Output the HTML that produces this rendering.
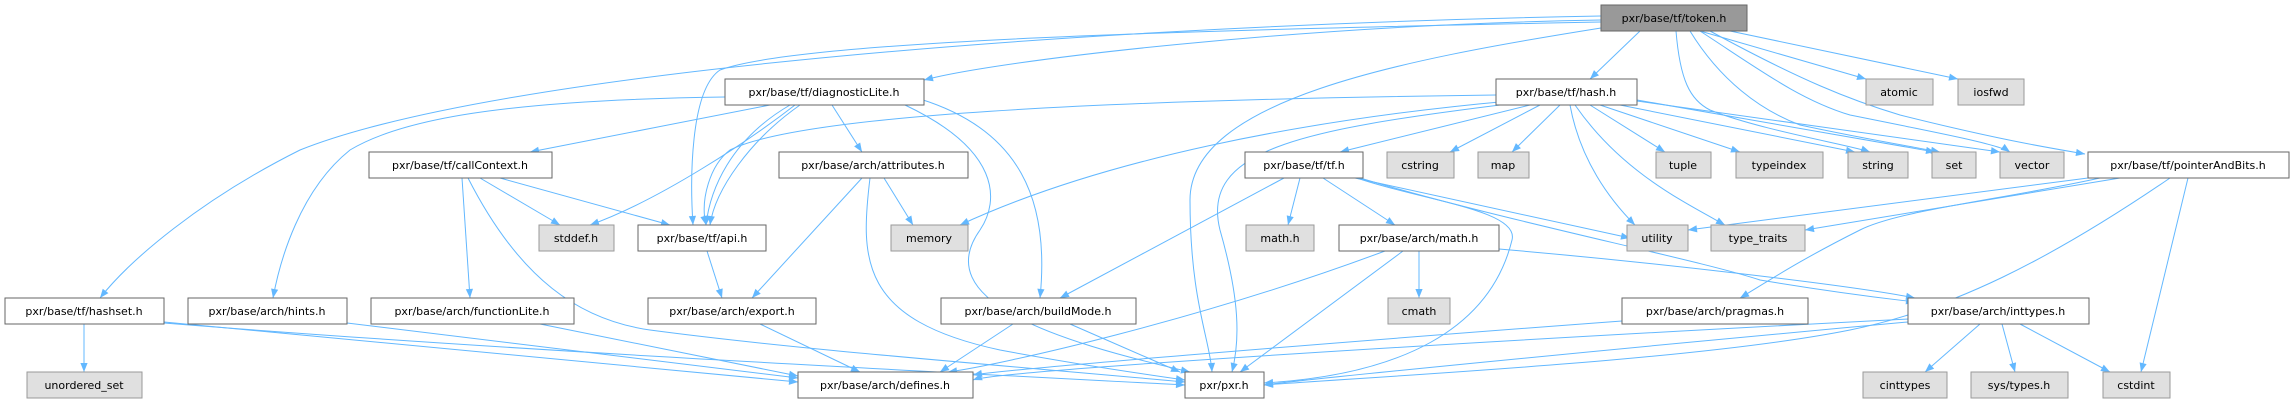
<!DOCTYPE html>
<html><head><meta charset="utf-8"><style>
html,body{margin:0;padding:0;background:#fff;}
svg{display:block}
text{font-family:"DejaVu Sans","Liberation Sans",sans-serif;font-size:11px;fill:#000;}
.n rect{fill:#fff;stroke:#666;stroke-width:1}
.g rect{fill:#e0e0e0;stroke:#999;stroke-width:1}
.e path{fill:none;stroke:#63b8ff;stroke-width:1;marker-end:url(#a)}
</style></head><body>
<svg width="2291" height="403" viewBox="0 0 2291 403" xmlns="http://www.w3.org/2000/svg">
<defs><marker id="a" viewBox="0 0 10 10" refX="10" refY="5" markerWidth="11" markerHeight="9" orient="auto" markerUnits="userSpaceOnUse"><path d="M0,1 L10,5 L0,9 z" fill="#63b8ff"/></marker></defs>
<g class="e">
<path d="M1640,31 L1590,79"/>
<path d="M1601,20 C1300,25 1000,60 924,80"/>
<path d="M1601,16 C1100,25 500,70 300,150 C200,200 130,260 100,298"/>
<path d="M1601,22 C1200,30 800,40 720,70 C690,90 690,180 693,225"/>
<path d="M1601,28 C1400,60 1190,100 1190,200 C1190,300 1210,340 1212,372"/>
<path d="M1700,31 L1866,79"/>
<path d="M1730,31 L1958,79"/>
<path d="M1676,31 C1680,80 1690,100 1710,110 C1760,130 1850,145 1870,152"/>
<path d="M1690,31 C1720,80 1760,110 1800,125 C1870,140 1920,148 1940,152"/>
<path d="M1700,31 C1760,70 1800,100 1850,115 C1950,135 2000,145 2010,152"/>
<path d="M1710,31 C1800,80 1850,100 1900,115 C2000,140 2050,148 2085,154"/>
<path d="M770,105 L530,152"/>
<path d="M725,97 C500,100 400,120 350,150 C300,190 280,260 273,298"/>
<path d="M795,105 C750,140 660,200 590,225"/>
<path d="M790,105 C730,140 710,190 706,225"/>
<path d="M800,105 C750,140 715,190 710,225"/>
<path d="M832,105 L862,152"/>
<path d="M905,105 C1000,150 1000,200 980,230 C930,300 1050,340 1190,372"/>
<path d="M920,99 C1020,130 1050,200 1040,298"/>
<path d="M480,178 L560,225"/>
<path d="M500,178 L670,225"/>
<path d="M462,178 L470,298"/>
<path d="M468,178 C520,280 580,320 650,330 C800,350 1000,365 1185,382"/>
<path d="M707,251 L722,298"/>
<path d="M884,178 L913,225"/>
<path d="M862,178 L752,298"/>
<path d="M870,178 C860,260 860,320 1000,350 C1080,365 1150,375 1185,380"/>
<path d="M760,324 L860,372"/>
<path d="M84,324 L84,372"/>
<path d="M164,322 C400,345 600,365 798,382"/>
<path d="M164,323 C500,350 900,370 1185,385"/>
<path d="M347,323 L798,378"/>
<path d="M540,324 L798,376"/>
<path d="M1013,324 L940,372"/>
<path d="M1070,324 L1180,372"/>
<path d="M1496,95 C1100,100 800,115 730,150 C710,165 700,200 706,225"/>
<path d="M1510,101 C1300,120 1100,160 960,225"/>
<path d="M1530,105 L1340,152"/>
<path d="M1500,105 C1300,130 1200,150 1220,230 C1240,300 1240,340 1232,372"/>
<path d="M1540,105 L1450,152"/>
<path d="M1560,105 L1512,152"/>
<path d="M1590,105 L1665,152"/>
<path d="M1600,105 L1740,152"/>
<path d="M1620,105 L1855,152"/>
<path d="M1637,100 L1935,152"/>
<path d="M1637,101 L2000,152"/>
<path d="M1570,105 C1580,160 1610,200 1635,225"/>
<path d="M1575,105 C1620,170 1680,200 1725,225"/>
<path d="M1284,178 L1060,298"/>
<path d="M1300,178 L1288,225"/>
<path d="M1323,178 L1395,225"/>
<path d="M1355,178 L1630,238"/>
<path d="M1360,178 C1500,220 1700,260 1760,280 C1850,295 1900,300 1915,302"/>
<path d="M1357,178 C1420,200 1520,210 1512,240 C1490,330 1400,375 1264,383"/>
<path d="M1419,251 L1419,298"/>
<path d="M1385,251 C1200,320 1000,365 948,372"/>
<path d="M1403,251 L1240,372"/>
<path d="M1499,249 C1650,262 1850,285 1915,298"/>
<path d="M2088,178 L1688,230"/>
<path d="M2120,178 L1805,230"/>
<path d="M2100,178 C2000,200 1900,210 1860,230 C1800,260 1770,280 1740,298"/>
<path d="M2170,178 C2050,260 1950,310 1850,330 C1700,360 1400,375 1264,385"/>
<path d="M2188,178 L2141,372"/>
<path d="M1622,321 C1300,345 1000,370 973,375"/>
<path d="M1980,324 L1925,372"/>
<path d="M2002,324 L2015,372"/>
<path d="M2020,324 L2110,372"/>
<path d="M1908,319 C1500,340 1000,370 973,380"/>
<path d="M1908,322 C1600,350 1300,380 1264,385"/>
</g>
<g text-anchor="middle">
<g><rect x="1601" y="5" width="146" height="26" fill="#999" stroke="#666"/><text x="1674" y="22">pxr/base/tf/token.h</text></g>
<g class="n"><rect x="725" y="79" width="199" height="26"/><text x="824" y="96">pxr/base/tf/diagnosticLite.h</text></g>
<g class="n"><rect x="1496" y="79" width="141" height="26"/><text x="1566" y="96">pxr/base/tf/hash.h</text></g>
<g class="g"><rect x="1866" y="79" width="67" height="26"/><text x="1899" y="96">atomic</text></g>
<g class="g"><rect x="1958" y="79" width="66" height="26"/><text x="1991" y="96">iosfwd</text></g>
<g class="n"><rect x="369" y="152" width="183" height="26"/><text x="460" y="169">pxr/base/tf/callContext.h</text></g>
<g class="n"><rect x="779" y="152" width="189" height="26"/><text x="873" y="169">pxr/base/arch/attributes.h</text></g>
<g class="n"><rect x="1245" y="152" width="118" height="26"/><text x="1304" y="169">pxr/base/tf/tf.h</text></g>
<g class="g"><rect x="1387" y="152" width="67" height="26"/><text x="1420" y="169">cstring</text></g>
<g class="g"><rect x="1478" y="152" width="51" height="26"/><text x="1503" y="169">map</text></g>
<g class="g"><rect x="1656" y="152" width="55" height="26"/><text x="1683" y="169">tuple</text></g>
<g class="g"><rect x="1736" y="152" width="87" height="26"/><text x="1779" y="169">typeindex</text></g>
<g class="g"><rect x="1848" y="152" width="60" height="26"/><text x="1878" y="169">string</text></g>
<g class="g"><rect x="1932" y="152" width="44" height="26"/><text x="1954" y="169">set</text></g>
<g class="g"><rect x="2000" y="152" width="64" height="26"/><text x="2032" y="169">vector</text></g>
<g class="n"><rect x="2088" y="152" width="201" height="26"/><text x="2188" y="169">pxr/base/tf/pointerAndBits.h</text></g>
<g class="g"><rect x="539" y="225" width="75" height="26"/><text x="576" y="242">stddef.h</text></g>
<g class="n"><rect x="638" y="225" width="128" height="26"/><text x="702" y="242">pxr/base/tf/api.h</text></g>
<g class="g"><rect x="891" y="225" width="77" height="26"/><text x="929" y="242">memory</text></g>
<g class="g"><rect x="1246" y="225" width="68" height="26"/><text x="1280" y="242">math.h</text></g>
<g class="n"><rect x="1339" y="225" width="160" height="26"/><text x="1419" y="242">pxr/base/arch/math.h</text></g>
<g class="g"><rect x="1627" y="225" width="61" height="26"/><text x="1657" y="242">utility</text></g>
<g class="g"><rect x="1711" y="225" width="94" height="26"/><text x="1758" y="242">type_traits</text></g>
<g class="n"><rect x="5" y="298" width="159" height="26"/><text x="84" y="315">pxr/base/tf/hashset.h</text></g>
<g class="n"><rect x="188" y="298" width="159" height="26"/><text x="267" y="315">pxr/base/arch/hints.h</text></g>
<g class="n"><rect x="371" y="298" width="203" height="26"/><text x="472" y="315">pxr/base/arch/functionLite.h</text></g>
<g class="n"><rect x="648" y="298" width="168" height="26"/><text x="732" y="315">pxr/base/arch/export.h</text></g>
<g class="n"><rect x="941" y="298" width="195" height="26"/><text x="1038" y="315">pxr/base/arch/buildMode.h</text></g>
<g class="g"><rect x="1388" y="298" width="62" height="26"/><text x="1419" y="315">cmath</text></g>
<g class="n"><rect x="1622" y="298" width="186" height="26"/><text x="1715" y="315">pxr/base/arch/pragmas.h</text></g>
<g class="n"><rect x="1908" y="298" width="181" height="26"/><text x="1998" y="315">pxr/base/arch/inttypes.h</text></g>
<g class="g"><rect x="27" y="372" width="115" height="26"/><text x="84" y="389">unordered_set</text></g>
<g class="n"><rect x="798" y="372" width="175" height="26"/><text x="885" y="389">pxr/base/arch/defines.h</text></g>
<g class="n"><rect x="1185" y="372" width="79" height="26"/><text x="1224" y="389">pxr/pxr.h</text></g>
<g class="g"><rect x="1863" y="372" width="84" height="26"/><text x="1905" y="389">cinttypes</text></g>
<g class="g"><rect x="1971" y="372" width="97" height="26"/><text x="2019" y="389">sys/types.h</text></g>
<g class="g"><rect x="2103" y="372" width="67" height="26"/><text x="2136" y="389">cstdint</text></g>
</g>
</svg>
</body></html>
